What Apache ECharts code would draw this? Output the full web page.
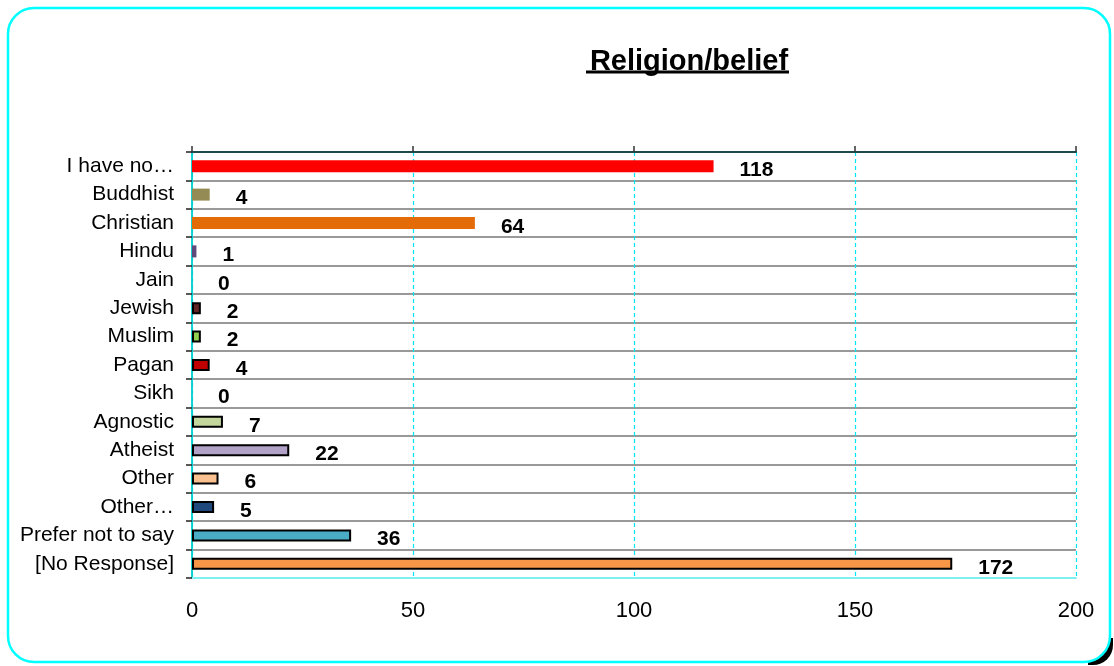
<!DOCTYPE html>
<html>
<head>
<meta charset="utf-8">
<script src="https://cdn.jsdelivr.net/npm/echarts@6/dist/echarts.min.js"></script>
<style>html,body{margin:0;padding:0;background:#fff;}#c{width:1114px;height:666px;}</style>
</head>
<body>
<div id="c"></div>
<script>
const categories = ["I have no…","Buddhist","Christian","Hindu","Jain","Jewish","Muslim","Pagan","Sikh","Agnostic","Atheist","Other","Other…","Prefer not to say","[No Response]"];
const values = [118,4,64,1,0,2,2,4,0,7,22,6,5,36,172];
const barColors = ["#ff0000","#948a54","#e36c09","#604a7b","#4f81bd","#632523","#92d050","#c00000","#4bacc6","#c3d69b","#b2a2c7","#fac090","#1f497d","#4bacc6","#f79646"];
const bordered = [false,false,false,false,false,true,true,true,false,true,true,true,true,true,true];
const xTicks = [0,50,100,150,200];

const chart = echarts.init(document.getElementById('c'));
const font = '"Liberation Sans", Arial, sans-serif';
const seriesData = values.map((v,i)=>({
  value: v,
  itemStyle: {
    color: barColors[i],
    borderColor: bordered[i] ? '#000' : barColors[i],
    borderWidth: bordered[i] ? 2 : 0
  }
}));

chart.setOption({
  animation: false,
  backgroundColor: '#fff',
  title: {
    text: 'Religion/belief',
    left: 684, top: 42, textAlign: 'center',
    textStyle: {fontFamily: font, fontSize: 29, fontWeight: 'bold', color: '#000'}
  },
  graphic: [
    {type:'rect', z:-20, shape:{x:1088,y:638,width:25,height:27,r:[0,0,20,0]},
     style:{fill:'#000'}},
    {type:'rect', z:-10, shape:{x:8,y:8,width:1102,height:654,r:26},
     style:{fill:'#fff', stroke:'#00ffff', lineWidth:2.5}},
    {type:'line', z:10, shape:{x1:586,y1:72,x2:789,y2:72}, style:{stroke:'#000', lineWidth:3}}
  ],
  grid: {left:192, right:38, top:152, bottom:88, containLabel:false},
  xAxis: [
    {
      type:'value', min:xTicks[0], max:xTicks[xTicks.length-1], interval:50, position:'bottom',
      axisLine:{show:true, lineStyle:{color:'#7ff0f0', width:2}},
      axisTick:{show:false},
      axisLabel:{fontFamily:font, fontSize:22, color:'#000', margin:22},
      splitLine:{show:true, lineStyle:{color:'#00e5f5', type:[4,3], width:1.2}}
    },
    {
      type:'value', min:xTicks[0], max:xTicks[xTicks.length-1], interval:50, position:'top',
      axisLine:{show:true, lineStyle:{color:'#1f4a4a', width:2}},
      axisTick:{show:true, length:6, lineStyle:{color:'#333', width:1.5}},
      axisLabel:{show:false},
      splitLine:{show:false}
    }
  ],
  yAxis: [
    {
      type:'category', data:categories, inverse:true, position:'left',
      axisLine:{show:true, lineStyle:{color:'#1f4a4a', width:1.5}},
      axisTick:{show:true, length:6, lineStyle:{color:'#222', width:1.5}},
      axisLabel:{fontFamily:font, fontSize:21, color:'#000', margin:18},
      splitLine:{show:true, lineStyle:{color:'#999', width:2}}
    },
    {
      type:'category', data:categories, inverse:true, position:'right',
      axisLine:{show:true, lineStyle:{color:'#00f0f0', width:1.5}},
      axisTick:{show:false}, axisLabel:{show:false}, splitLine:{show:false}
    }
  ],
  series: [{
    type:'bar', data:seriesData, barWidth:12, xAxisIndex:0, yAxisIndex:0,
    label:{show:true, position:'right', distance:26, offset:[0,4],
      fontFamily:font, fontSize:21, fontWeight:'bold', color:'#000'}
  }]
});
</script>
</body>
</html>
